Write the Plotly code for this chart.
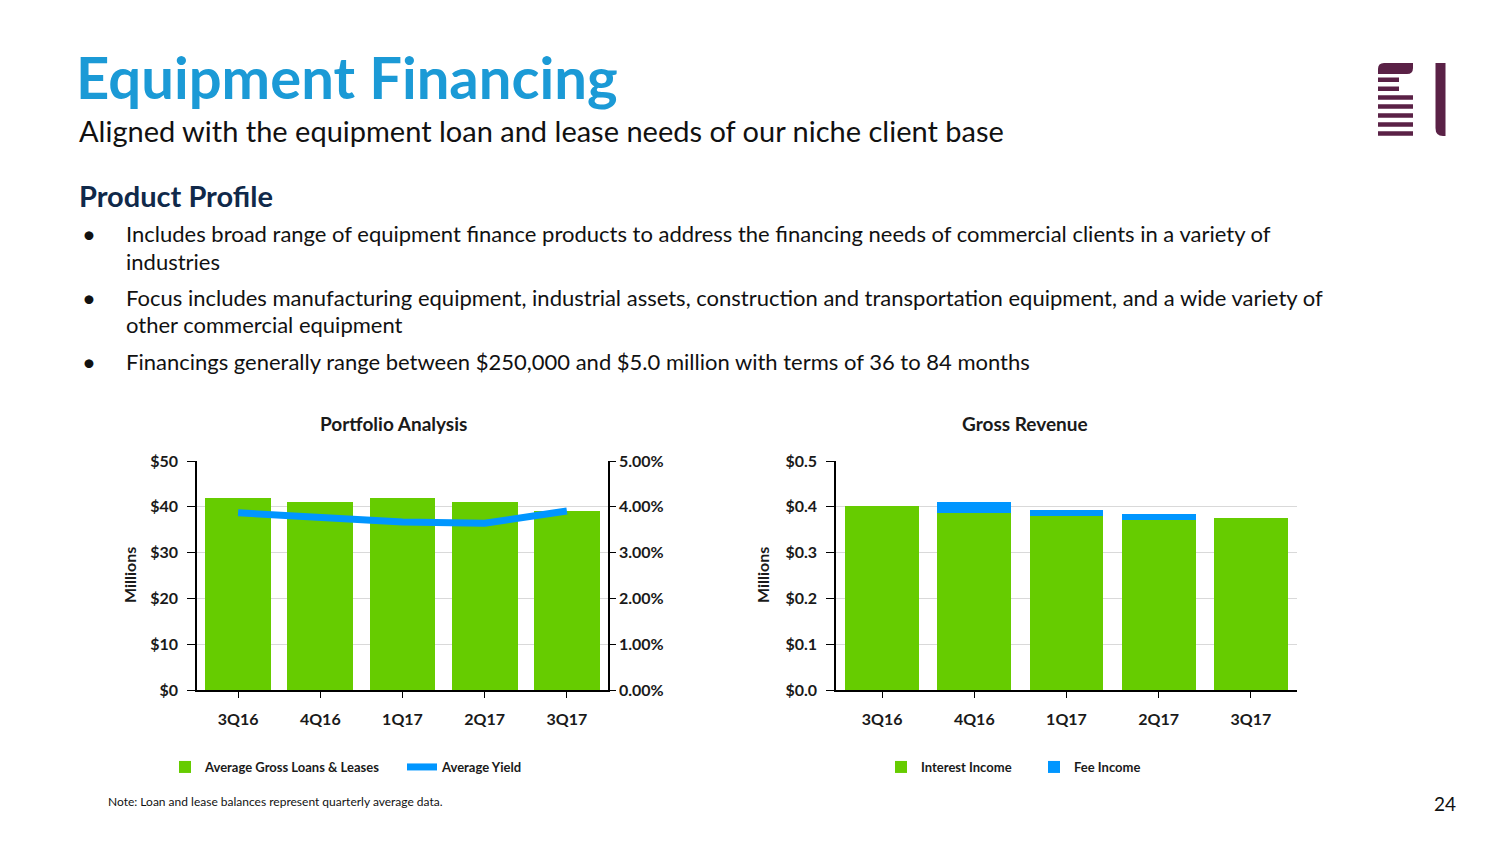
import plotly.graph_objects as go

W, H = 1504, 846
def X(px): return px / W
def Y(py): return 1 - py / H

FONT = "Lato"
GREEN = "#66CC00"
BLUE = "#0096FF"
DARK = "#1a1a1a"
GRID = "#D9D9D9"

# ---- data ----
quarters = ["3Q16", "4Q16", "1Q17", "2Q17", "3Q17"]
avg_loans = [42, 41, 42, 41, 39]                # $ millions
avg_yield = [3.87, 3.76, 3.67, 3.64, 3.91]      # %
interest_income = [0.402, 0.387, 0.380, 0.372, 0.376]  # $ millions
fee_income = [0.0, 0.023, 0.012, 0.013, 0.0]

left_ticks = [0, 10, 20, 30, 40, 50]
left_labels = ["$0", "$10", "$20", "$30", "$40", "$50"]
right_ticks = [0, 1, 2, 3, 4, 5]
right_labels = ["0.00%", "1.00%", "2.00%", "3.00%", "4.00%", "5.00%"]
rev_ticks = [0, 0.1, 0.2, 0.3, 0.4, 0.5]
rev_labels = ["$0.0", "$0.1", "$0.2", "$0.3", "$0.4", "$0.5"]

title = "Equipment Financing"
subtitle = "Aligned with the equipment loan and lease needs of our niche client base"
section = "Product Profile"
bullet_lines = [
    ("•", "Includes broad range of equipment finance products to address the financing needs of commercial clients in a variety of"),
    ("", "industries"),
    ("•", "Focus includes manufacturing equipment, industrial assets, construction and transportation equipment, and a wide variety of"),
    ("", "other commercial equipment"),
    ("•", "Financings generally range between $250,000 and $5.0 million with terms of 36 to 84 months"),
]
bullet_y = [233, 261, 297, 325, 361]
note = "Note: Loan and lease balances represent quarterly average data."

fig = go.Figure(layout=dict(template="none"))
fig.add_trace(go.Bar(x=quarters, y=avg_loans, name="Average Gross Loans & Leases",
                     marker=dict(color=GREEN, line=dict(width=0)),
                     xaxis="x", yaxis="y", legend="legend"))
fig.add_trace(go.Scatter(x=quarters, y=avg_yield, name="Average Yield", mode="lines",
                         line=dict(color=BLUE, width=7),
                         xaxis="x", yaxis="y2", legend="legend"))
fig.add_trace(go.Bar(x=quarters, y=interest_income, name="Interest Income",
                     marker=dict(color=GREEN, line=dict(width=0)),
                     xaxis="x2", yaxis="y3", legend="legend2"))
fig.add_trace(go.Bar(x=quarters, y=fee_income, name="Fee Income",
                     marker=dict(color=BLUE, line=dict(width=0)),
                     xaxis="x2", yaxis="y3", legend="legend2"))

tickfont = dict(family=FONT, size=16, color=DARK, weight="bold")
common_y = dict(showline=True, linecolor="black", linewidth=1.5, ticks="outside",
                tickcolor="black", tickwidth=1, tickfont=tickfont,
                zeroline=False, fixedrange=True, automargin=False, tickmode="array")
common_x = dict(showline=True, linecolor="black", linewidth=1.5, ticks="outside",
                ticklen=6, tickcolor="black", tickwidth=1, tickfont=tickfont,
                showgrid=False, ticklabelstandoff=8, fixedrange=True, automargin=False)

ydom = [Y(690), Y(461)]
fig.update_layout(
    width=W, height=H, margin=dict(l=0, r=0, t=0, b=0, autoexpand=False),
    paper_bgcolor="white", plot_bgcolor="white",
    barmode="stack", bargap=0.2,
    font=dict(family=FONT, color=DARK),
    xaxis=dict(domain=[X(197), X(608)], anchor="y", **common_x),
    yaxis=dict(domain=ydom, anchor="x", range=[0, 50], tickvals=left_ticks,
               ticktext=left_labels, showgrid=True, gridcolor=GRID, gridwidth=1,
               ticklen=8, ticklabelstandoff=6, **common_y),
    yaxis2=dict(overlaying="y", side="right", anchor="x", range=[0, 5],
                tickvals=right_ticks, ticktext=right_labels,
                showgrid=False, ticklen=6, ticklabelstandoff=0, **common_y),
    xaxis2=dict(domain=[X(836), X(1297)], anchor="y3", **common_x),
    yaxis3=dict(domain=ydom, anchor="x2", range=[0, 0.5], tickvals=rev_ticks,
                ticktext=rev_labels, showgrid=True, gridcolor=GRID,
                gridwidth=1, ticklen=8, ticklabelstandoff=6, **common_y),
    legend=dict(orientation="h", x=X(165), y=Y(767), xanchor="left", yanchor="middle",
                font=dict(family=FONT, size=13, color=DARK, weight="bold"),
                entrywidth=192, traceorder="normal", bgcolor="rgba(0,0,0,0)"),
    legend2=dict(orientation="h", x=X(881), y=Y(767), xanchor="left", yanchor="middle",
                 font=dict(family=FONT, size=13, color=DARK, weight="bold"),
                 entrywidth=108, traceorder="normal", bgcolor="rgba(0,0,0,0)"),
    showlegend=True,
)

ann = []
def add_text(x, y, text, size, color=DARK, bold=False, xanchor="left", textangle=0):
    ann.append(dict(x=X(x), y=Y(y), xref="paper", yref="paper", text=text, showarrow=False,
                    xanchor=xanchor, yanchor="middle", textangle=textangle,
                    font=dict(family=FONT, size=size, color=color,
                              weight="bold" if bold else "normal")))

add_text(74, 76, title, 58, color="#1B9AD6", bold=True)
add_text(77, 131, subtitle, 29, color="#111111")
add_text(77, 195, section, 29, color="#10294A", bold=True)
for (b, t), yy in zip(bullet_lines, bullet_y):
    if b:
        add_text(80, yy, b, 24, color="#111111")
    add_text(124, yy, t, 22, color="#111111")
add_text(393, 423, "Portfolio Analysis", 19, bold=True, xanchor="center")
add_text(1025, 423, "Gross Revenue", 19, bold=True, xanchor="center")
add_text(129, 575, "Millions", 16, bold=True, xanchor="center", textangle=-90)
add_text(762, 575, "Millions", 16, bold=True, xanchor="center", textangle=-90)
add_text(106, 801, note, 12, color="#111111")
add_text(1458, 803, "24", 19, color="#111111", xanchor="right")
fig.update_layout(annotations=ann)

# logo shapes
LOGO = "#5A2146"
shapes = []
def rect(x0, y0, x1, y1):
    shapes.append(dict(type="rect", xref="paper", yref="paper", x0=X(x0), x1=X(x1),
                       y0=Y(y1), y1=Y(y0), fillcolor=LOGO, line=dict(width=0), layer="above"))
def path(points):
    s = ""
    for cmd, pts in points:
        s += cmd + " " + " ".join(f"{X(px):.6f},{Y(py):.6f}" for px, py in pts) + " "
    s += "Z"
    shapes.append(dict(type="path", xref="paper", yref="paper", path=s,
                       fillcolor=LOGO, line=dict(width=0), layer="above"))

# top leaf-shaped bar (rounded top-left and bottom-right)
path([("M", [(1378, 74)]), ("L", [(1378, 69)]), ("Q", [(1378, 63), (1384, 63)]),
      ("L", [(1413, 63)]), ("L", [(1413, 68)]), ("Q", [(1413, 74), (1407, 74)])])
rect(1378, 77.5, 1399, 82)
rect(1378, 86.5, 1399, 91)
for yy in [95.3, 104.3, 113.3, 122.3, 131.3]:
    rect(1378, yy, 1413, yy + 4.5)
# vertical bar with rounded bottom-left corner
path([("M", [(1435.5, 63)]), ("L", [(1445.5, 63)]), ("L", [(1445.5, 136)]),
      ("L", [(1443, 136)]), ("Q", [(1435.5, 136), (1435.5, 128)])])
fig.update_layout(shapes=shapes)

fig.write_html("out.html", post_script="document.body.style.margin='0';",
               config={"displayModeBar": False})
